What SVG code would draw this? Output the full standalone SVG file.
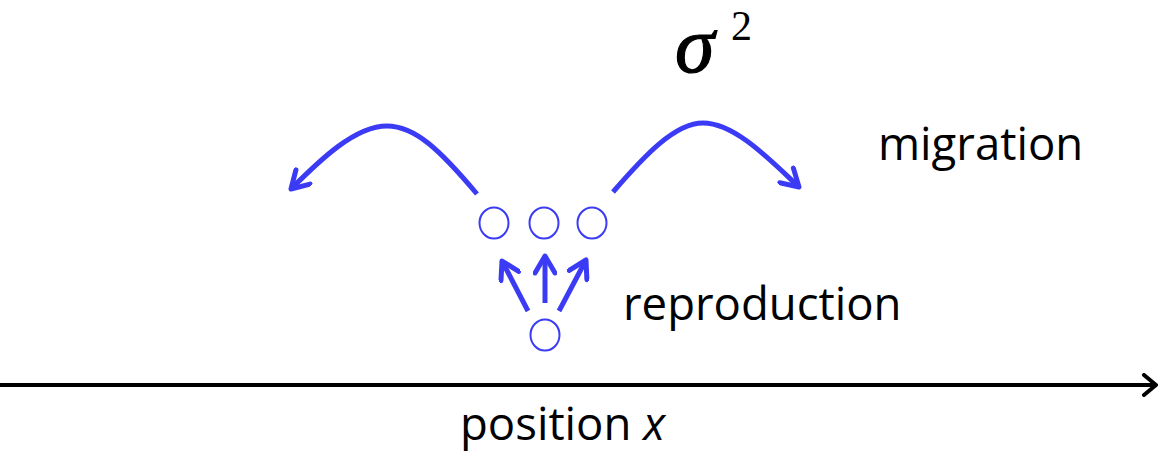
<svg xmlns="http://www.w3.org/2000/svg" width="1158" height="454" viewBox="0 0 1158 454">
<style>
.lbl{font-family:"Open Sans","Liberation Sans",sans-serif;font-size:45.5px;fill:#000}
.node{fill:none;stroke:#3b3bf5;stroke-width:2}
.blue{fill:none;stroke:#3b3bf5;stroke-width:5}
</style>
<defs>
<marker id="bh" markerUnits="userSpaceOnUse" viewBox="-20 -12 24 24" markerWidth="24" markerHeight="24" refX="0" refY="0" orient="auto">
<path d="M-17,-10 L0,0 L-17,10" fill="none" stroke="#3b3bf5" stroke-width="5" stroke-linecap="round" stroke-linejoin="round"/>
</marker>
<marker id="kh" markerUnits="userSpaceOnUse" viewBox="-20 -12 24 24" markerWidth="24" markerHeight="24" refX="0" refY="0" orient="auto">
<path d="M-12,-10 L0,0 L-12,10" fill="none" stroke="#000" stroke-width="4" stroke-linecap="round" stroke-linejoin="round"/>
</marker>
</defs>
<g id="connectors">
<path class="blue" d="M477,194 C440,150 415,126 387,126 C355,126 320,160 291,189" marker-end="url(#bh)"/>
<path class="blue" d="M613,192 C645,155 675,123 703,123 C735,123 770,160 799,187" marker-end="url(#bh)"/>
<line class="blue" x1="528" y1="311" x2="502" y2="261" marker-end="url(#bh)"/>
<line class="blue" x1="545" y1="303" x2="545" y2="256" marker-end="url(#bh)"/>
<line class="blue" x1="559" y1="311" x2="586" y2="260" marker-end="url(#bh)"/>
<line x1="0" y1="385" x2="1156" y2="385" stroke="#000" stroke-width="4" marker-end="url(#kh)"/>
</g>
<g id="child1"><ellipse class="node" cx="494" cy="223" rx="14.5" ry="15.5"/></g>
<g id="child2"><ellipse class="node" cx="544" cy="223" rx="14.5" ry="15.5"/></g>
<g id="child3"><ellipse class="node" cx="592" cy="223" rx="14.5" ry="15.5"/></g>
<g id="parent"><ellipse class="node" cx="545" cy="335" rx="14.5" ry="15.5"/></g>
<g id="sigma"><text x="675" y="72" font-family="'Liberation Serif',serif" font-style="italic" font-size="80" stroke="#000" stroke-width="1.2">σ</text><text x="731" y="40" font-family="'Liberation Serif',serif" font-size="42">2</text></g>
<g id="labels">
<text class="lbl" x="878" y="160">migration</text>
<text class="lbl" x="623" y="320">reproduction</text>
<text class="lbl" x="460" y="440">position <tspan font-style="italic">x</tspan></text>
</g>
</svg>
